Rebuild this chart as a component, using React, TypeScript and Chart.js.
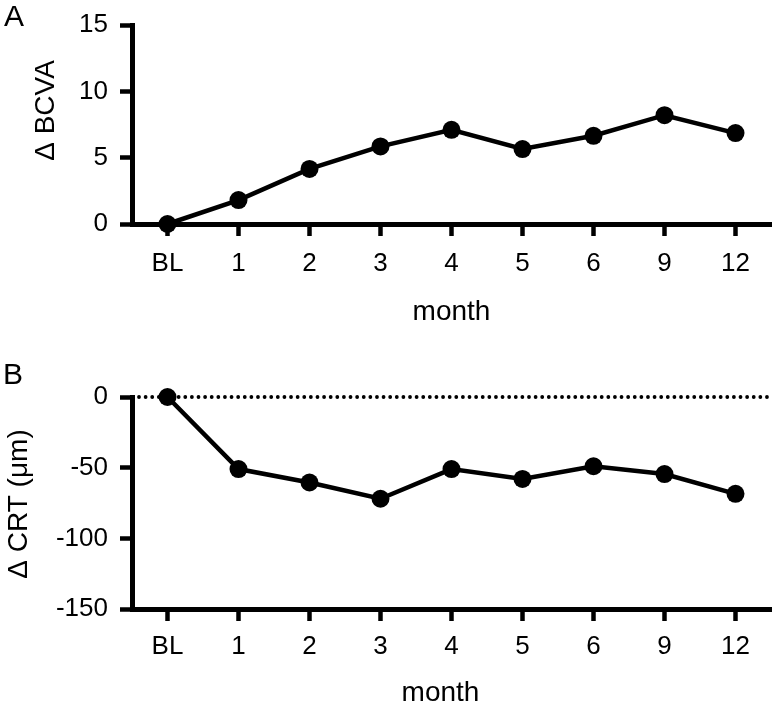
import React, { useEffect, useRef } from "react";
import { Chart, registerables } from "chart.js";

Chart.register(...registerables);

// ---- data ----
const months = ["BL", "1", "2", "3", "4", "5", "6", "9", "12"];
const bcvaChange = [0, 1.8, 4.15, 5.85, 7.1, 5.65, 6.65, 8.2, 6.85];
const crtChange = [0, -51, -60.5, -72, -51, -58, -49, -54.5, -68.5];
const bcvaTicks = [0, 5, 10, 15];
const crtTicks = [-150, -100, -50, 0];

const FONT = "'Liberation Sans', Arial, Helvetica, sans-serif";
const W = 780;
const H = 353;

const panelTextPlugin = {
  id: "panelText",
  beforeDatasetsDraw(chart: any, _args: any, opts: any) {
    if (!opts || !opts.zeroLine) return;
    const { left, right } = chart.chartArea;
    const y = chart.scales.y.getPixelForValue(0);
    const ctx = chart.ctx;
    ctx.save();
    ctx.strokeStyle = "#000";
    ctx.lineWidth = 3.8;
    ctx.lineCap = "round";
    ctx.setLineDash([0.01, 6.6]);
    ctx.beginPath();
    ctx.moveTo(left + 7, y);
    ctx.lineTo(right + 1, y);
    ctx.stroke();
    ctx.restore();
  },
  afterDraw(chart: any, _args: any, opts: any) {
    const ctx = chart.ctx;
    const { left, right, top, bottom } = chart.chartArea;
    ctx.save();
    ctx.fillStyle = "#000";
    // panel letter
    ctx.font = `${opts.letterSize}px ${FONT}`;
    ctx.textAlign = "left";
    ctx.textBaseline = "alphabetic";
    ctx.fillText(opts.letter, opts.letterX, opts.letterY);
    // x title
    ctx.font = `${opts.titleSize}px ${FONT}`;
    ctx.textAlign = "center";
    ctx.textBaseline = "middle";
    ctx.fillText(opts.xTitle, (left + right) / 2 + opts.xTitleDx, opts.xTitleY);
    // y title
    ctx.translate(opts.yTitleX, (top + bottom) / 2 + opts.yTitleDy);
    ctx.rotate(-Math.PI / 2);
    ctx.fillText(opts.yTitle, 0, 0);
    ctx.restore();
  },
};

function axisStyle() {
  return {
    grid: {
      display: true,
      drawOnChartArea: false,
      drawTicks: true,
      tickLength: 12,
      tickWidth: 4.5,
      tickColor: "#000",
      offset: false,
    },
    border: { display: true, color: "#000", width: 5 },
  };
}

function buildConfig(cfg: any) {
  const ticksArr: number[] = cfg.ticks;
  return {
    type: "line",
    data: {
      labels: months,
      datasets: [
        {
          data: cfg.values,
          borderColor: "#000",
          backgroundColor: "#000",
          borderWidth: 4.5,
          pointRadius: 9,
          pointHoverRadius: 9,
          pointBackgroundColor: "#000",
          pointBorderColor: "#000",
          pointBorderWidth: 0,
          tension: 0,
          clip: false,
        },
      ],
    },
    options: {
      responsive: false,
      animation: false,
      events: [],
      layout: { padding: { top: cfg.padTop, right: 1, left: 0, bottom: 0 } },
      plugins: {
        legend: { display: false },
        tooltip: { enabled: false },
        panelText: cfg.text,
      },
      scales: {
        x: {
          type: "category",
          offset: true,
          ...axisStyle(),
          ticks: {
            color: "#000",
            font: { family: FONT, size: 26, lineHeight: 1 },
            padding: cfg.xPad,
            maxRotation: 0,
            autoSkip: false,
          },
          afterFit: (s: any) => {
            s.height = cfg.xAxisHeight;
          },
        },
        y: {
          type: "linear",
          min: ticksArr[0],
          max: ticksArr[ticksArr.length - 1],
          ...axisStyle(),
          ticks: {
            color: "#000",
            font: { family: FONT, size: 26, lineHeight: 1 },
            padding: 12,
            stepSize: ticksArr[1] - ticksArr[0],
          },
          afterFit: (s: any) => {
            s.width = 132;
          },
        },
      },
    },
    plugins: [panelTextPlugin],
  };
}

function Panel(props: { cfg: any; top: number }) {
  const ref = useRef<HTMLCanvasElement>(null);
  useEffect(() => {
    if (!ref.current) return;
    const chart = new Chart(ref.current, buildConfig(props.cfg) as any);
    return () => chart.destroy();
  }, []);
  return (
    <canvas
      ref={ref}
      width={W}
      height={H}
      style={{ position: "absolute", left: 0, top: props.top, width: W, height: H, display: "block" }}
    />
  );
}

const cfgA = {
  values: bcvaChange,
  ticks: bcvaTicks,
  padTop: 12,
  xAxisHeight: H - 224,
  xPad: 15,
  text: {
    letter: "A",
    letterSize: 30,
    letterX: 4,
    letterY: 26,
    titleSize: 28,
    xTitle: "month",
    xTitleDx: 0,
    xTitleY: 312,
    yTitle: "\u0394 BCVA",
    yTitleX: 46,
    yTitleDy: -14,
    zeroLine: false,
  },
};

const cfgB = {
  values: crtChange,
  ticks: crtTicks,
  padTop: 44,
  xAxisHeight: H - 256,
  xPad: 13,
  text: {
    letter: "B",
    letterSize: 30,
    letterX: 3,
    letterY: 31,
    titleSize: 28,
    xTitle: "month",
    xTitleDx: -11,
    xTitleY: 340,
    yTitle: "\u0394 CRT (\u03bcm)",
    yTitleX: 19,
    yTitleDy: 1,
    zeroLine: true,
  },
};

export default function App() {
  return (
    <div
      style={{
        position: "absolute",
        left: 0,
        top: 0,
        width: W,
        height: 706,
        overflow: "hidden",
        background: "#fff",
      }}
    >
      <Panel cfg={cfgA} top={0} />
      <Panel cfg={cfgB} top={H} />
    </div>
  );
}
